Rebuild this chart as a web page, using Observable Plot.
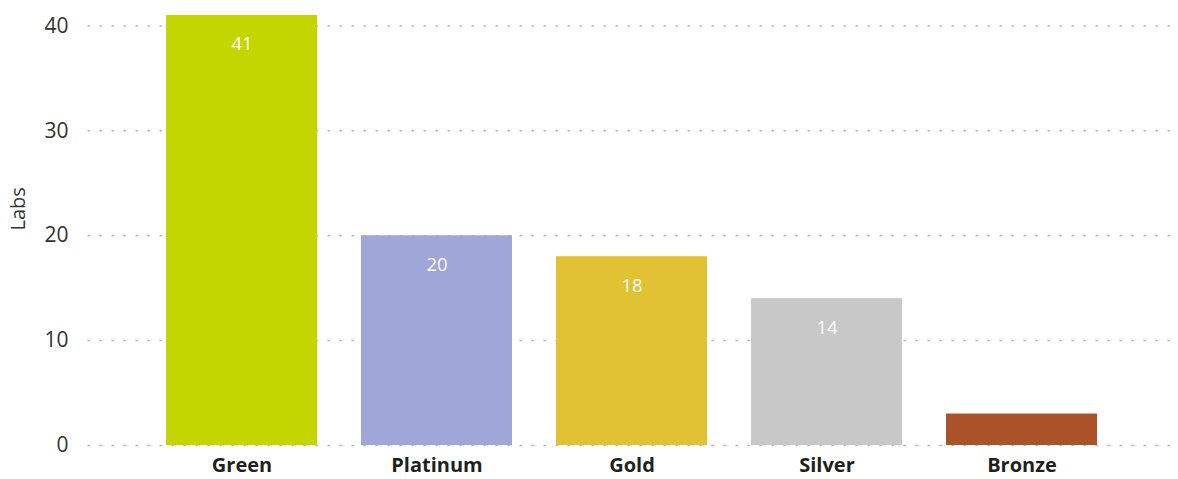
<!DOCTYPE html>
<html>
<head>
<meta charset="utf-8">
<script src="https://cdn.jsdelivr.net/npm/d3@7"></script>
<script src="https://cdn.jsdelivr.net/npm/@observablehq/plot@0.6"></script>
<style>
  html, body { margin: 0; padding: 0; background: #fff; }
  #chart { width: 1178px; height: 479px; }
</style>
</head>
<body>
<div id="chart"></div>
<script>
const categories = ["Green", "Platinum", "Gold", "Silver", "Bronze"];
const labs = [41, 20, 18, 14, 3];
const colors = ["#c4d600", "#a0a6d8", "#e0c232", "#c8c8c8", "#ab5229"];
const yTicks = [0, 10, 20, 30, 40];

const data = categories.map((c, i) => ({category: c, labs: labs[i], color: colors[i]}));

const chart = Plot.plot({
  width: 1178,
  height: 479,
  marginLeft: 88,
  marginRight: 3,
  marginTop: 15,
  marginBottom: 34,
  style: {fontFamily: "'Open Sans', sans-serif", background: "#fff"},
  x: {domain: categories, paddingInner: 0.2256, paddingOuter: 0.4, round: false},
  y: {domain: [0, 41]},
  marks: [
    Plot.ruleY(yTicks, {stroke: "#b8b8b8", strokeWidth: 1.5, strokeDasharray: "1.5,10.5", strokeLinecap: "round"}),
    Plot.barY(data, {x: "category", y: "labs", fill: "color"}),
    Plot.text(data.filter(d => d.labs > 5), {x: "category", y: "labs", text: d => String(d.labs), dy: 29, fill: "#fff", fontSize: 18.5}),
    Plot.axisY(yTicks, {tickSize: 0, tickPadding: 20, fontSize: 21, color: "#333", label: null}),
    Plot.text(["Labs"], {frameAnchor: "left", dx: -70, rotate: -90, fontSize: 20, fill: "#333"}),
    Plot.axisX({tickSize: 0, tickPadding: 12, fontSize: 20, fontWeight: "bold", color: "#1f1f1f", label: null})
  ]
});
document.getElementById("chart").appendChild(chart);
</script>
</body>
</html>
